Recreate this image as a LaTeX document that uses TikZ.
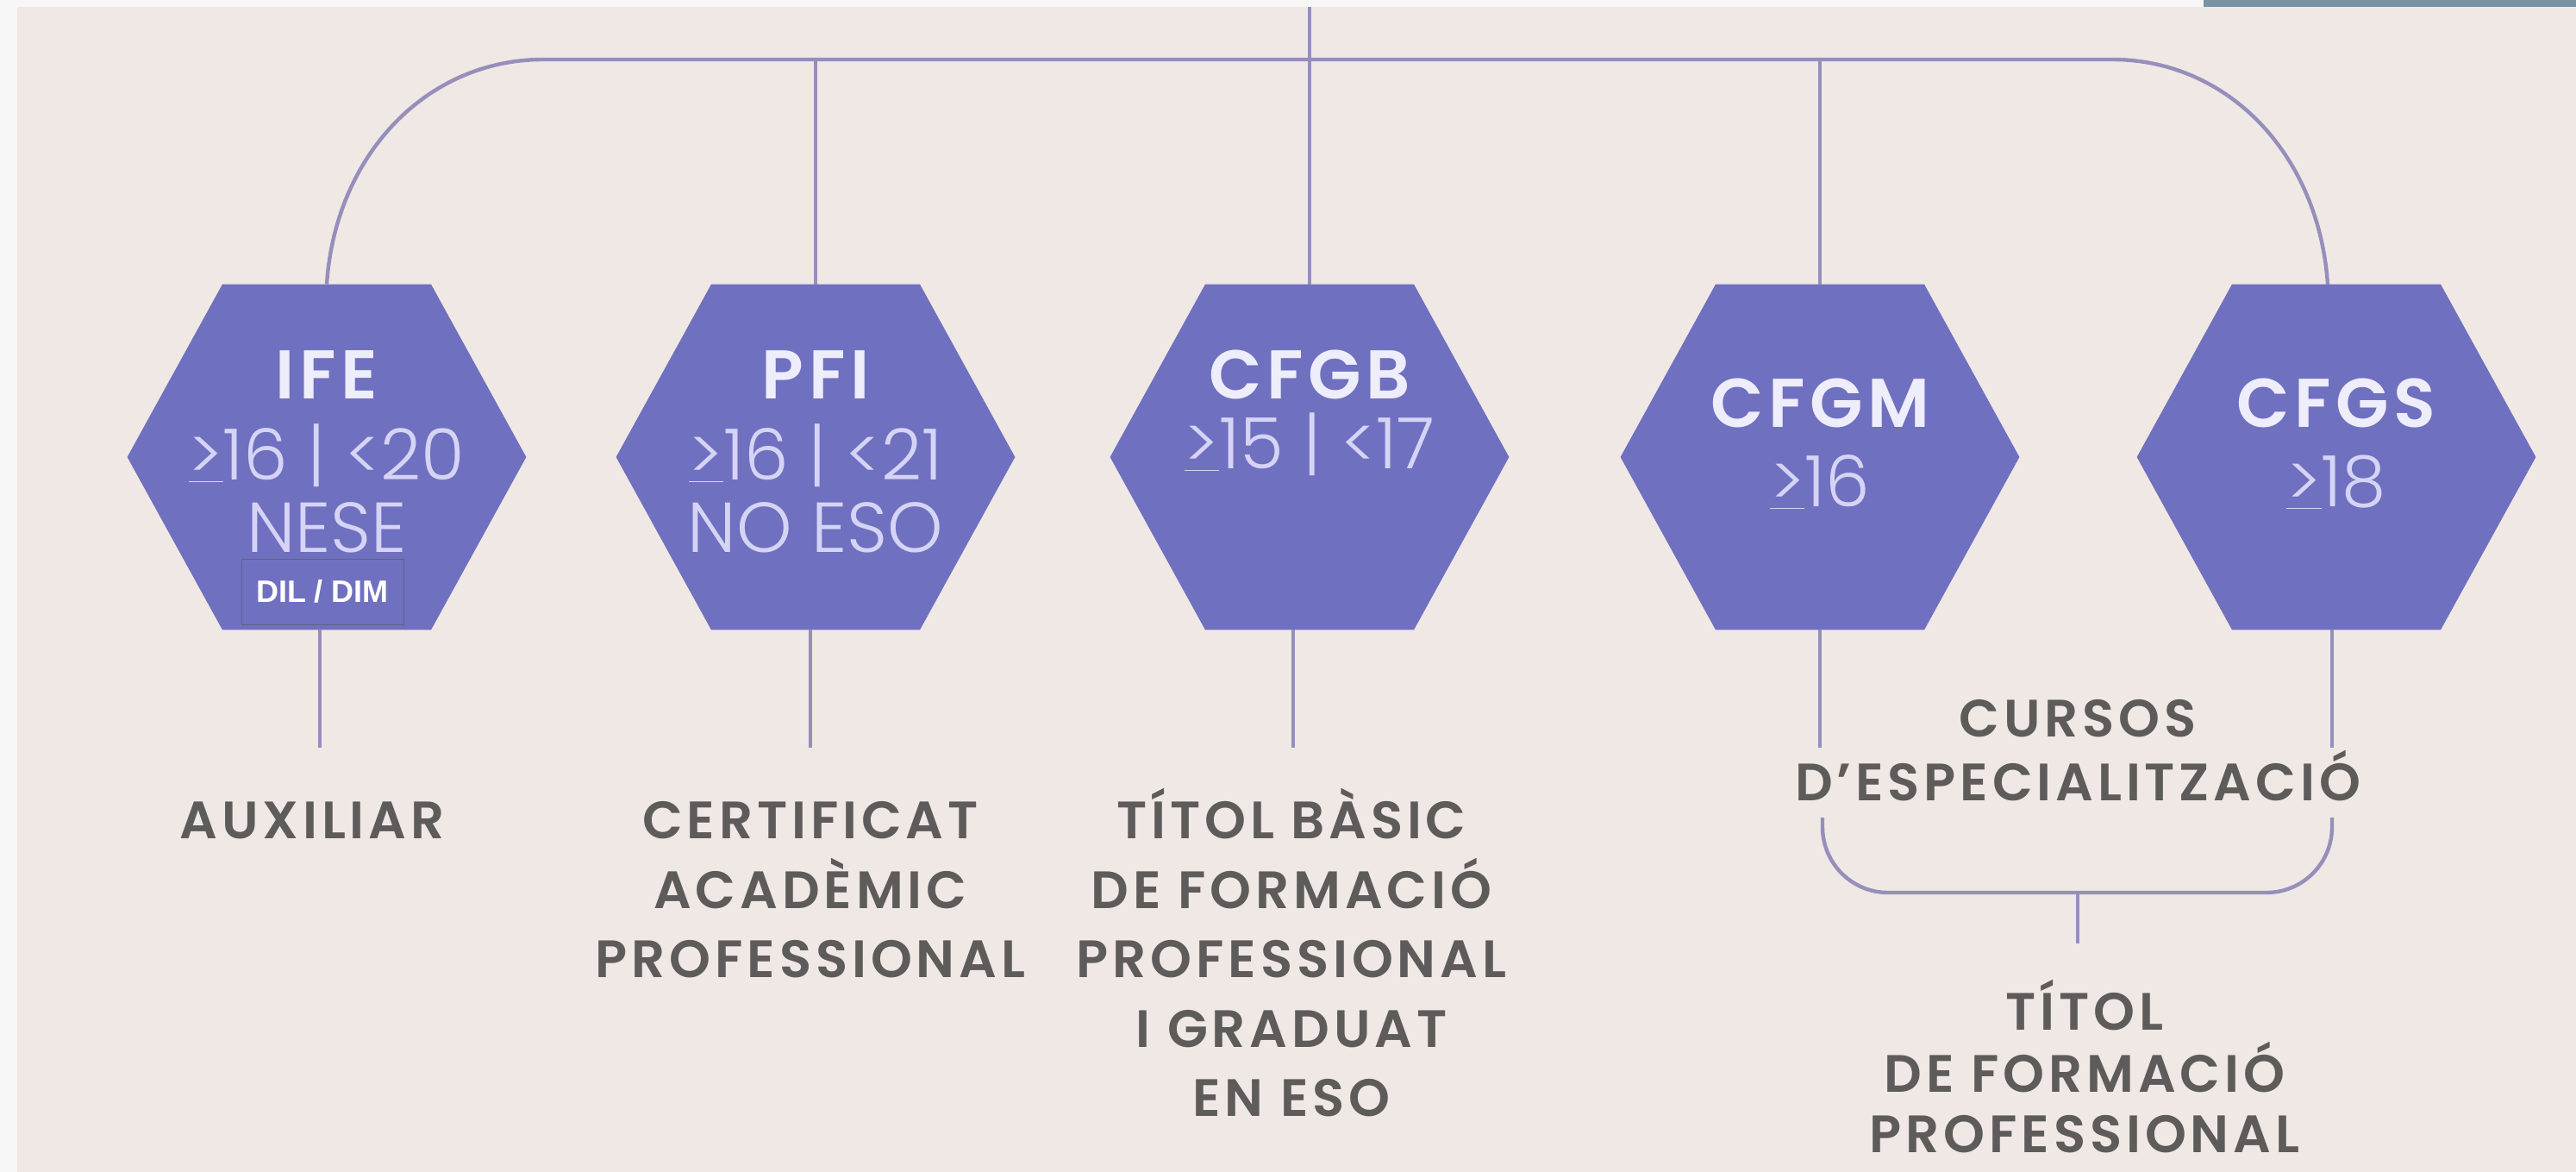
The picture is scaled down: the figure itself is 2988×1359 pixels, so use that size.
\documentclass[tikz,border=0pt]{standalone}
\usepackage{fontspec}
\setmainfont{Poppins}
\IfFontExistsTF{Poppins Light}{\newfontfamily\numfont{Poppins Light}}{\newfontfamily\numfont{Poppins}}
\IfFontExistsTF{Poppins SemiBold}{%
  \newfontfamily\labfont{Poppins SemiBold}[LetterSpace=8]%
  \newfontfamily\titfont{Poppins SemiBold}[LetterSpace=7]}{%
  \newfontfamily\labfont{Poppins}[LetterSpace=8,UprightFont=*,BoldFont=* Bold]%
  \newfontfamily\titfont{Poppins}[LetterSpace=7]}
\newfontfamily\dilfont{Liberation Sans}
\usetikzlibrary{calc}
\definecolor{pagebg}{HTML}{F0E8E4}
\definecolor{framec}{HTML}{F7F7F7}
\definecolor{slate}{HTML}{7A93A3}
\definecolor{hexc}{HTML}{7070C0}
\definecolor{linec}{HTML}{968FBB}
\definecolor{titlec}{HTML}{EEEDFB}
\definecolor{numc}{HTML}{D6D4F6}
\definecolor{labc}{HTML}{5E5B5B}
\definecolor{dilborder}{HTML}{5A6485}
\newcommand\hexpath[1]{\fill[hexc] ($(#1.north)+(-121,0)$) -- ($(#1.north)+(121,0)$) -- (#1.east) -- ($(#1.south)+(121,0)$) -- ($(#1.south)+(-121,0)$) -- (#1.west) -- cycle;}
\tikzset{
  hexnode/.style={minimum width=231pt, minimum height=200pt, inner sep=0pt, draw=none, fill=none},
  hextitle/.style={anchor=base, text=titlec, font=\titfont\fontsize{40}{48}\selectfont, inner sep=0pt},
  hexnum/.style={anchor=base, text=numc, font=\numfont\fontsize{41}{48}\selectfont, inner sep=0pt},
  lab/.style={anchor=base, text=labc, font=\labfont\fontsize{30.5}{36}\selectfont, inner sep=0pt},
  conn/.style={draw=linec, line width=2.2pt},
  dilbox/.style={minimum width=94pt, minimum height=38pt, fill=hexc, draw=dilborder, line width=0.5pt, text=white, font=\dilfont\bfseries\fontsize{18}{20}\selectfont, inner sep=0pt}
}
\begin{document}
\begin{tikzpicture}[x=0.5pt,y=-0.5pt]
\useasboundingbox (0,0) rectangle (2988,1359);
\fill[pagebg] (0,0) rectangle (2988,1359);
\fill[framec] (0,0) rectangle (2988,8);
\fill[framec] (0,0) rectangle (20,1359);
\fill[slate] (2556,0) rectangle (2988,8);

% hexagons
\node[hexnode] (ife) at (379,530) {};
\node[hexnode] (pfi) at (946,530) {};
\node[hexnode] (cfgb) at (1519,530) {};
\node[hexnode] (cfgm) at (2111,530) {};
\node[hexnode] (cfgs) at (2710,530) {};
\foreach \h in {ife,pfi,cfgb,cfgm,cfgs}{\hexpath{\h}}

% upper connectors
\coordinate (topin) at (1519,8);
\coordinate (hl) at (630,69);
\coordinate (hr) at (2450,69);
\coordinate (cfgsin) at (2700,330);
\draw[conn] (topin) -- (cfgb.north);
\draw[conn] (ife.north) .. controls +(10,-150) and +(-135,0) .. (hl) -- (hr) .. controls +(135,0) and +(-10,-150) .. (cfgsin);
\draw[conn] (pfi.north) -- (pfi.north |- hl);
\draw[conn] (cfgm.north) -- (cfgm.north |- hl);

% lower connectors
\coordinate (ifeE) at (371,867);
\coordinate (pfiE) at (940,867);
\coordinate (cfgbE) at (1500,867);
\coordinate (cfgmE) at (2111,867);
\coordinate (cfgsE) at (2705,867);
\draw[conn] (ife.south -| ifeE) -- (ifeE);
\draw[conn] (pfi.south -| pfiE) -- (pfiE);
\draw[conn] (cfgb.south -| cfgbE) -- (cfgbE);
\draw[conn] (cfgm.south -| cfgmE) -- (cfgmE);
\draw[conn] (cfgs.south -| cfgsE) -- (cfgsE);

% bracket
\coordinate (brl) at (2114,948);
\coordinate (brr) at (2705,948);
\coordinate (brm) at (2410,1035);
\coordinate (brs) at (2410,1094);
\draw[conn, rounded corners=38pt] (brl) -- (brl |- brm) -- (brr |- brm) -- (brr);
\draw[conn] (brm) -- (brs);

% hexagon texts
\node[hextitle] (ifeA) at (379,462) {IFE};
\node[hexnum] (ifeB) at (379,556) {\underline{>}16 | <20};
\node[hexnum] (ifeC) at (379,640) {NESE};
\node[hextitle] (pfiA) at (946,462) {PFI};
\node[hexnum] (pfiB) at (946,556) {\underline{>}16 | <21};
\node[hexnum] (pfiC) at (946,640) {NO ESO};
\node[hextitle] (cfgbA) at (1519,462) {CFGB};
\node[hexnum] (cfgbB) at (1519,543) {\underline{>}15 | <17};
\node[hextitle] (cfgmA) at (2111,495) {CFGM};
\node[hexnum] (cfgmB) at (2111,587) {\underline{>}16};
\node[hextitle] (cfgsA) at (2710,495) {CFGS};
\node[hexnum] (cfgsB) at (2710,587) {\underline{>}18};
\node[dilbox] (dil) at (374,686) {DIL / DIM};

% labels
\node[lab] (aux) at (362,972) {AUXILIAR};
\node[lab] (cert1) at (940,972) {CERTIFICAT};
\node[lab] (cert2) at (940,1053) {ACADÈMIC};
\node[lab] (cert3) at (940,1133) {PROFESSIONAL};
\node[lab] (tb1) at (1498,972) {TÍTOL BÀSIC};
\node[lab] (tb2) at (1498,1053) {DE FORMACIÓ};
\node[lab] (tb3) at (1498,1133) {PROFESSIONAL};
\node[lab] (tb4) at (1498,1214) {I GRADUAT};
\node[lab] (tb5) at (1498,1294) {EN ESO};
\node[lab] (ce1) at (2410,854) {CURSOS};
\node[lab] (ce2) at (2410,928) {D’ESPECIALITZACIÓ};
\node[lab] (tf1) at (2418,1194) {TÍTOL};
\node[lab] (tf2) at (2418,1266) {DE FORMACIÓ};
\node[lab] (tf3) at (2418,1336) {PROFESSIONAL};
\end{tikzpicture}
\end{document}
